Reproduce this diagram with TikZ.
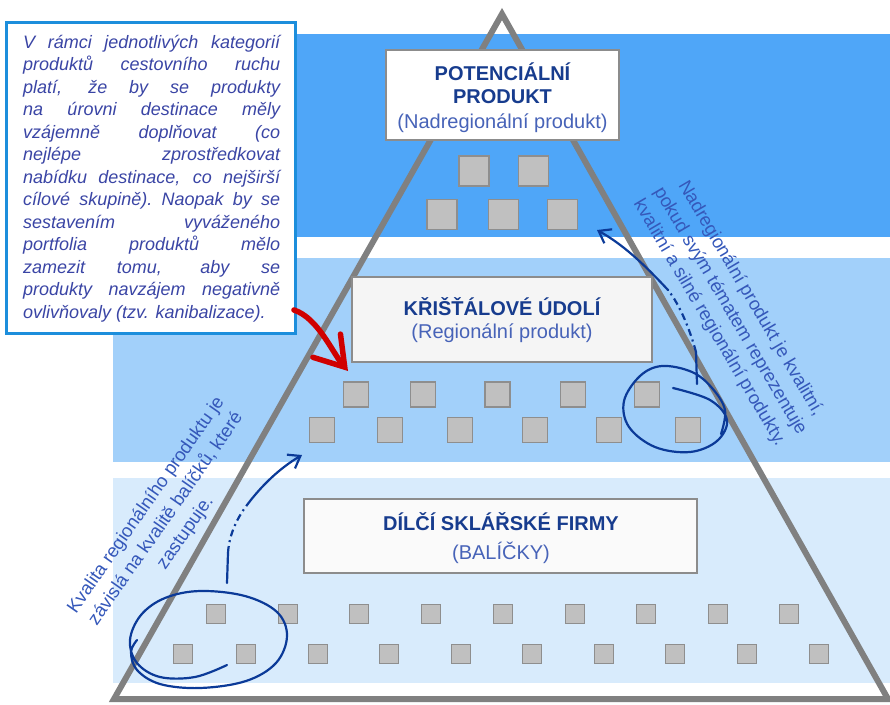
\documentclass[tikz,border=0pt]{standalone}
\usepackage{fontspec}
\setmainfont{Liberation Sans}
\usetikzlibrary{arrows.meta}

\definecolor{bandA}{HTML}{4FA6F8}
\definecolor{bandB}{HTML}{A2D0FA}
\definecolor{bandC}{HTML}{D8EBFC}
\definecolor{tri}{HTML}{808080}
\definecolor{sq}{HTML}{C0C0C0}
\definecolor{sqline}{HTML}{8E8E8E}
\definecolor{boxline}{HTML}{8C8C8C}
\definecolor{navy}{HTML}{0B3A98}
\definecolor{titleblue}{HTML}{173C8E}
\definecolor{subblue}{HTML}{4763B8}
\definecolor{notetext}{HTML}{3A45A5}
\definecolor{noteframe}{HTML}{1C8EDC}
\definecolor{rottext}{HTML}{3558BA}
\definecolor{arrowred}{HTML}{D00000}

\newcommand{\jline}[1]{\hbox to 257pt{\spaceskip=0.3em plus 1fil\xspaceskip=0.3em plus 1fil\relax #1}}

\tikzset{
 sqbox/.style={draw=sqline, fill=sq, line width=1.3pt, inner sep=0pt, minimum size=#1},
 tierbox/.style={draw=boxline, line width=1.5pt, inner sep=0pt},
 title/.style={text=titleblue, font=\fontsize{20}{24}\selectfont\bfseries, inner sep=0pt, anchor=base},
 subtitle/.style={text=subblue, font=\fontsize{20}{24}\selectfont, inner sep=0pt, anchor=base},
 remark/.style={text=rottext, font=\fontsize{18.5}{24}\selectfont, align=center, inner sep=0pt},
 hand/.style={draw=navy, line width=2.2pt, line cap=round, line join=round},
}

\begin{document}
\begin{tikzpicture}[x=1pt,y=-1pt]
\useasboundingbox (0,0) rectangle (890,704);

% bands
\fill[bandA] (113,34) rectangle (890,237);
\fill[bandB] (113,258) rectangle (890,462);
\fill[bandC] (113,478) rectangle (890,683);

% pyramid
\draw[tri, line width=6pt, line join=miter] (502,14) -- (114,699) -- (888,699) -- cycle;

% tier boxes
\node[tierbox, fill=white, minimum width=233pt, minimum height=90pt] (potbox) at (502.5,95) {};
\node[tierbox, fill=black!4, minimum width=300pt, minimum height=85pt] (kribox) at (502,319.5) {};
\node[tierbox, fill=black!2, minimum width=393pt, minimum height=74pt] (dilbox) at (500.5,536) {};

\node[title] (pot1) at (502.5,80) {POTENCIÁLNÍ};
\node[title] (pot2) at (502.5,103) {PRODUKT};
\node[subtitle] (pot3) at (502.5,128) {(Nadregionální produkt)};
\node[title] (kri1) at (502,315) {KŘIŠŤÁLOVÉ ÚDOLÍ};
\node[subtitle] (kri2) at (502,338) {(Regionální produkt)};
\node[title] (dil1) at (501,530) {DÍLČÍ SKLÁŘSKÉ FIRMY};
\node[subtitle] (dil2) at (501,559) {(BALÍČKY)};

% product squares
\foreach \x [count=\i] in {474,533.5} \node[sqbox=30pt] (ta\i) at (\x,171) {};
\foreach \x [count=\i] in {442,503.5,562.5} \node[sqbox=30pt] (tb\i) at (\x,214.5) {};
\foreach \x [count=\i] in {356,423,497.5,573,647} \node[sqbox=25pt] (ma\i) at (\x,394.5) {};
\foreach \x [count=\i] in {322,390,460,535,609,688} \node[sqbox=25pt] (mb\i) at (\x,430) {};
\foreach \x [count=\i] in {216,288,359,431,503,575,646,718,789} \node[sqbox=19pt] (ba\i) at (\x,614) {};
\foreach \x [count=\i] in {183,246,318,389,461,532,604,675,747,819} \node[sqbox=19pt] (bb\i) at (\x,654) {};

% note box
\node[draw=noteframe, line width=3pt, fill=white, minimum width=289pt, minimum height=311pt, inner sep=0pt] (notebox) at (150.5,177.5) {};
\node[anchor=base west, inner sep=0pt, text=notetext, font=\fontsize{18}{22.5}\selectfont\itshape] (note) at (23,48)
{\vtop{\baselineskip=22.5pt\lineskiplimit=-30pt\lineskip=0pt
\jline{V rámci jednotlivých kategorií}
\jline{produktů cestovního ruchu}
\jline{platí, že by se produkty}
\jline{na úrovni destinace měly}
\jline{vzájemně doplňovat (co}
\jline{nejlépe zprostředkovat}
\jline{nabídku destinace, co nejširší}
\jline{cílové skupině). Naopak by se}
\jline{sestavením vyváženého}
\jline{portfolia produktů mělo}
\jline{zamezit tomu, aby se}
\jline{produkty navzájem negativně}
\hbox{ovlivňovaly (tzv. kanibalizace).}}};

% red arrow
\coordinate (redS) at (294,310);
\coordinate (redT) at (348,371);
\draw[arrowred, line width=5.5pt, line cap=round, -{Straight Barb[length=28pt,width=36pt,line cap=round]}]
  (redS) .. controls (318,318) and (332,352) .. (redT);

% right annotation
\draw[hand] plot[smooth, tension=0.6] coordinates {(673,388) (710,400) (727,420) (717,441) (690,452) (655,447) (629,427) (624,401) (640,376) (662,366) (692,372) (712,388) (725,410) (721,434)};
\coordinate (rA) at (697,384);
\coordinate (rB) at (696,352);
\coordinate (rC) at (668,290);
\coordinate (rTip) at (597,230);
\draw[hand] (rA) -- (rB);
\draw[hand, line cap=butt, dash pattern=on 7pt off 4pt on 2pt off 4pt] (rB) .. controls (690,330) and (680,305) .. (rC);
\draw[hand, -{Straight Barb[length=11pt,width=16pt]}] (rC) .. controls (642,262) and (622,244) .. (rTip);
\node[remark, rotate=-59.5] (rtext) at (730,311) {Nadregionální produkt je kvalitní,\\pokud svým tématem reprezentuje\\kvalitní a silné regionální produkty.};

% left annotation
\draw[hand] plot[smooth, tension=0.6] coordinates {(227,665) (195,677) (160,677) (137,663) (130,640) (141,615) (165,598) (200,591) (245,596) (277,612) (287,636) (276,663) (246,681) (200,688) (160,684) (137,670) (131,652) (137,640)};
\coordinate (lA) at (227,583);
\coordinate (lB) at (228,553);
\coordinate (lC) at (247,505);
\coordinate (lTip) at (302,455);
\draw[hand] (lA) -- (lB);
\draw[hand, line cap=butt, dash pattern=on 7pt off 4pt on 2pt off 4pt] (lB) .. controls (229,535) and (237,518) .. (lC);
\draw[hand, -{Straight Barb[length=11pt,width=16pt]}] (lC) .. controls (262,485) and (280,468) .. (lTip);
\node[remark, rotate=55] (ltext) at (166,519) {Kvalita regionálního produktu je\\závislá na kvalitě balíčků, které\\zastupuje.};
\end{tikzpicture}
\end{document}
